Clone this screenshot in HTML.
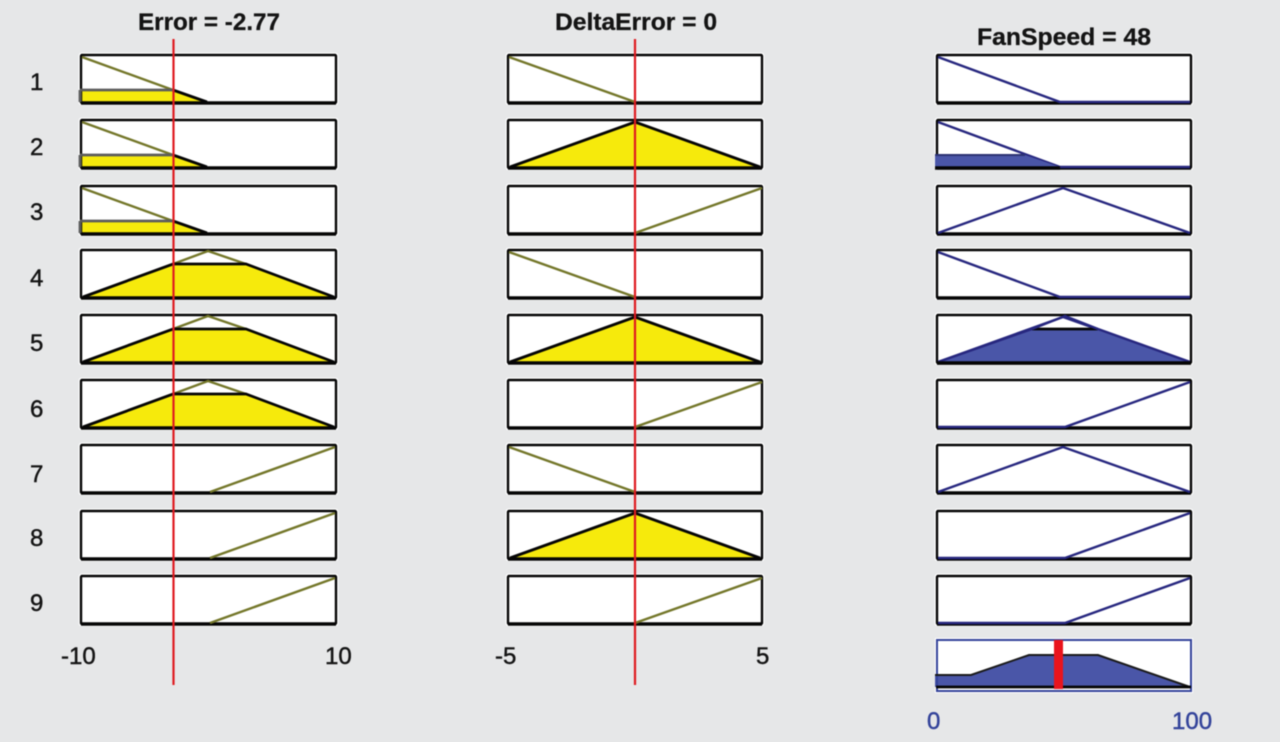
<!DOCTYPE html>
<html>
<head>
<meta charset="utf-8">
<style>
html,body{margin:0;padding:0;background:#e6e7e8;width:1280px;height:742px;overflow:hidden}
svg{display:block;filter:blur(.4px)}
text{font-family:"Liberation Sans",Arial,sans-serif;fill:#141414}
.t{font-weight:bold;font-size:24px;stroke:#141414;stroke-width:.3}
.n{font-size:24px;stroke:#141414;stroke-width:.45}
.w{font-size:24px;fill:#33439a;stroke:#33439a;stroke-width:.45}
.b{fill:#fff;stroke:#fff;stroke-width:5}
.f{fill:none;stroke:#050505;stroke-width:2.4}
.h{fill:none;stroke:#050505;stroke-width:3.6}
.o{fill:none;stroke:#74772a;stroke-width:2.4}
.u{fill:none;stroke:#27277f;stroke-width:2.4}
.k{fill:none;stroke:#050505;stroke-width:2.8}
.g{fill:none;stroke:#5c5c5c;stroke-width:2.8}
.y{fill:#f6ea0c;stroke:none}
.l{fill:#4a56a8;stroke:none}
</style>
</head>
<body>
<svg width="1280" height="742" viewBox="0 0 1280 742" xmlns="http://www.w3.org/2000/svg">
<defs>
<g id="b1"><rect class="b" x="81" y="0" width="255" height="48" rx="1"/></g>
<g id="f1"><rect class="f" x="81" y="0" width="255" height="48" rx="1"/><path class="h" d="M81 48H336"/></g>
<g id="b2"><rect class="b" x="508" y="0" width="254" height="48" rx="1"/></g>
<g id="f2"><rect class="f" x="508" y="0" width="254" height="48" rx="1"/><path class="h" d="M508 48H762"/></g>
<g id="b3"><rect class="b" x="937" y="0" width="254" height="48" rx="1"/></g>
<g id="f3"><rect class="f" x="937" y="0" width="254" height="48" rx="1"/><path class="h" d="M937 48H1191"/></g>

<g id="e-low">
<use href="#b1"/>
<path class="y" d="M80 35H173L207 47H80Z"/>
<use href="#f1"/>
<path class="o" d="M82 2L173 35"/>
<path class="g" d="M80 35H173"/>
<path class="g" d="M80 35V47"/>
<path class="k" d="M173 35L207 47"/>
</g>
<g id="e-mid">
<use href="#b1"/>
<path class="y" d="M83 47L173 14H246L334 47Z"/>
<use href="#f1"/>
<path class="o" d="M173 14L208 1L246 14"/>
<path class="k" d="M83 47L173 14H246L334 47"/>
</g>
<g id="e-hi">
<use href="#b1"/>
<use href="#f1"/>
<path class="o" d="M210 47L335 2"/>
</g>

<g id="d-low">
<use href="#b2"/>
<use href="#f2"/>
<path class="o" d="M509 2L635 47"/>
</g>
<g id="d-mid">
<use href="#b2"/>
<path class="y" d="M510 47L635 2L760 47Z"/>
<use href="#f2"/>
<path class="k" d="M510 47L635 2L760 47"/>
</g>
<g id="d-hi">
<use href="#b2"/>
<use href="#f2"/>
<path class="o" d="M635 47L762 2"/>
</g>

<g id="s-low">
<use href="#b3"/>
<use href="#f3"/>
<path class="u" d="M938 2L1060 47H1190"/>
</g>
<g id="s-mid">
<use href="#b3"/>
<use href="#f3"/>
<path class="u" d="M938 47L1063 2L1190 47"/>
</g>
<g id="s-hi">
<use href="#b3"/>
<use href="#f3"/>
<path class="u" d="M938 47H1065L1190 2"/>
</g>
</defs>

<rect width="1280" height="742" fill="#e6e7e8"/>

<text class="t" x="138" y="30" textLength="142" lengthAdjust="spacingAndGlyphs">Error = -2.77</text>
<text class="t" x="555" y="30" textLength="162" lengthAdjust="spacingAndGlyphs">DeltaError = 0</text>
<text class="t" x="977" y="45" textLength="174" lengthAdjust="spacingAndGlyphs">FanSpeed = 48</text>

<text class="n" x="30" y="90">1</text>
<text class="n" x="30" y="155">2</text>
<text class="n" x="30" y="220">3</text>
<text class="n" x="30" y="286">4</text>
<text class="n" x="30" y="351">5</text>
<text class="n" x="30" y="417">6</text>
<text class="n" x="30" y="482">7</text>
<text class="n" x="30" y="546">8</text>
<text class="n" x="30" y="611">9</text>

<use href="#e-low" y="55"/>
<use href="#e-low" y="120"/>
<use href="#e-low" y="186"/>
<use href="#e-mid" y="250"/>
<use href="#e-mid" y="315"/>
<use href="#e-mid" y="380"/>
<use href="#e-hi" y="445"/>
<use href="#e-hi" y="511"/>
<use href="#e-hi" y="576"/>

<use href="#d-low" y="55"/>
<use href="#d-mid" y="120"/>
<use href="#d-hi" y="186"/>
<use href="#d-low" y="250"/>
<use href="#d-mid" y="315"/>
<use href="#d-hi" y="380"/>
<use href="#d-low" y="445"/>
<use href="#d-mid" y="511"/>
<use href="#d-hi" y="576"/>

<use href="#s-low" y="55"/>
<g>
<use href="#s-low" y="120"/>
<path class="l" d="M935 155H1025L1060 167H935Z"/>
<path d="M935 155H1025" fill="none" stroke="#2c3272" stroke-width="2"/>
<path class="h" d="M935 168H1060"/>
</g>
<use href="#s-mid" y="186"/>
<use href="#s-low" y="250"/>
<g>
<use href="#s-mid" y="315"/>
<path class="l" d="M938 362L1032 329H1098L1190 362Z"/>
<path class="k" d="M1032 329H1098"/>
<path class="u" d="M938 362L1032 329"/>
<path class="u" d="M1032 329L1065 316L1098 329L1190 362"/>
<path class="h" d="M937 363H1191"/>
</g>
<use href="#s-hi" y="380"/>
<use href="#s-mid" y="445"/>
<use href="#s-hi" y="511"/>
<use href="#s-hi" y="576"/>

<rect x="937" y="640" width="254" height="51" fill="#fff" stroke="#fff" stroke-width="4"/>
<path class="l" d="M935 675H971L1029 655H1098L1190 687H935Z"/>
<rect x="937" y="640" width="254" height="51" fill="none" stroke="#33439a" stroke-width="2"/>
<path d="M935 675H971L1029 655H1098L1190 687" fill="none" stroke="#1a1a1a" stroke-width="2"/>
<path d="M936 687H1191" fill="none" stroke="#050505" stroke-width="2.8"/>
<rect x="1054" y="640" width="9" height="49" fill="#e9141d"/>

<path d="M173.5 39V685" fill="none" stroke="#df1a20" stroke-width="2.2"/>
<path d="M635 39V685" fill="none" stroke="#df1a20" stroke-width="2.2"/>

<text class="n" x="61" y="664">-10</text>
<text class="n" x="325" y="664">10</text>
<text class="n" x="495" y="664">-5</text>
<text class="n" x="756" y="664">5</text>
<text class="w" x="927" y="729">0</text>
<text class="w" x="1172" y="729">100</text>
</svg>
</body>
</html>
